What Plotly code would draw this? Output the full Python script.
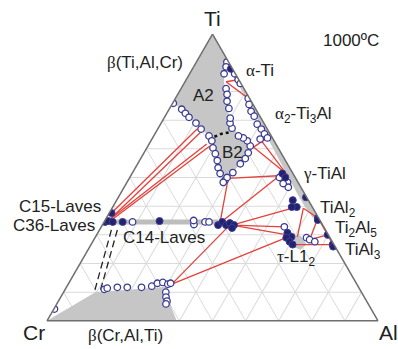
import plotly.graph_objects as go

# ---------------- data (at.% Ti, at.% Al; Cr = balance) ----------------
# single-phase field outlines (grey)
a2b2_ti = [100, 75.9, 73.8, 71.0, 69.0, 66.9, 64.5, 61.0, 56.9, 54.1, 51.4, 49.0, 51.7, 54.8,
           56.6, 58.6, 61.0, 62.8, 63.8, 64.5, 69.7, 73.1, 78.3, 83.4, 86.9, 90.0, 100]
a2b2_al = [0, 0.2, 3.8, 7.4, 10.5, 13.1, 16.7, 19.3, 21.8, 23.8, 26.0, 29.3, 30.3, 31.0,
           31.6, 31.5, 30.9, 29.1, 27.4, 25.6, 20.5, 18.1, 15.0, 11.8, 10.1, 10.0, 0]

edge_ti = [90, 88, 78, 64, 55, 50, 45, 40, 36, 36, 90]
edge_al = [10, 11.0, 21.0, 34.5, 43.2, 48.0, 52.8, 57.8, 62.3, 64, 10]

tau_ti = [30.0, 29.7, 26.6, 24.8, 26.2, 30.0]
tau_al = [58.6, 61.8, 65.1, 64.2, 60.5, 58.6]

bcr_ti = [0, 10.0, 11.9, 7.7, 4.2, 0, 0]
bcr_al = [0, 9.6, 30.5, 33.2, 35.6, 39.2, 0]

c14_ti = [34.5, 34.5]
c14_al = [1.0, 34.5]

# A2 / B2 ordering boundary (dotted)
dot_ti = [63.4, 65.2, 65.9, 68.6]
dot_al = [17.2, 20.0, 22.7, 21.3]

# dashed lines (Laves -> beta(Cr))
dash1_ti = [31.7, 10.0]
dash1_al = [3.6, 9.3]
dash2_ti = [31.7, 10.3]
dash2_al = [5.4, 10.9]

# open symbols (analysed phase compositions)
open_ti = [75.9, 73.8, 72.4, 71.0, 69.0, 66.9, 64.5, 62.8, 60.3, 58.3, 55.9, 53.4, 51.4,
           49.0, 50.0, 51.7, 48.3, 54.8, 56.6, 58.6, 61.0, 62.8, 63.8, 64.5, 67.2, 69.0,
           90.3, 88.6, 86.2, 81.0, 79.0, 76.6, 74.1, 70.7,
           86.2, 84.1, 82.8, 77.6, 75.5, 73.1, 71.4, 68.6, 66.9, 65.2, 63.8, 63.4,
           50.0, 48.3, 46.6, 47.9,
           32.8, 29.0, 28.3, 27.6,
           34.5, 33.6, 35.0, 34.5, 34.5,
           4.1, 11.0, 11.4, 11.7, 11.7, 11.7, 12.1, 13.1, 13.4, 12.8, 13.1,
           10.0, 8.3, 6.9, 5.9]
open_al = [0.2, 3.8, 5.6, 7.4, 10.5, 13.1, 16.7, 18.4, 20.0, 21.7, 23.5, 25.0, 26.6,
           29.3, 29.4, 30.3, 29.1, 31.0, 31.6, 31.5, 30.9, 29.1, 27.4, 25.6, 22.3, 20.8,
           9.2, 9.8, 10.4, 13.6, 14.9, 16.1, 17.9, 20.0,
           13.6, 15.7, 17.0, 22.0, 23.3, 25.1, 26.9, 29.2, 31.3, 33.1, 34.7, 32.7,
           45.2, 48.5, 49.6, 47.4,
           55.3, 63.9, 65.2, 67.1,
           8.6, 27.6, 26.8, 30.5, 31.7,
           0.2, 11.8, 12.5, 15.4, 18.4, 22.7, 25.6, 26.8, 28.3, 30.1, 30.8,
           30.9, 31.8, 32.8, 33.0]

# filled symbols
fill_ti = [87.9, 37.6, 34.5, 34.8, 34.5, 34.5, 34.8,
           33.4, 34.5, 33.4, 34.1, 33.4, 32.4,
           51.4, 50.0, 42.1, 39.7, 39.7, 43.1,
           30.7, 29.3, 29.0, 27.6, 26.6,
           35.9, 35.2, 30.0, 26.6, 25.9]
fill_al = [11.6, 0.7, 0.3, 1.1, 2.6, 5.6, 16.6,
           35.0, 35.7, 37.4, 38.2, 39.8, 39.7,
           45.4, 47.0, 53.2, 55.6, 54.1, 56.7,
           57.3, 59.2, 57.8, 59.5, 60.9,
           63.9, 64.2, 69.8, 73.0, 73.5]

# tie lines: (Ti1, Al1) -> (Ti2, Al2)
tie_ti1 = [37.6, 35.2, 35.2, 35.2, 83.4, 83.4, 59.3, 61.0, 63.4, 49.7, 49.7, 34.1,
           33.4, 33.4, 33.4, 12.8, 12.8, 39.3, 39.3, 35.9, 35.9, 28.3, 30.0, 26.6]
tie_al1 = [0.7, 1.2, 1.2, 1.9, 12.4, 12.4, 31.1, 31.5, 32.7, 29.9, 29.9, 35.2,
           39.2, 39.2, 39.2, 31.3, 31.3, 57.8, 57.8, 63.9, 63.9, 65.2, 69.8, 60.9]
tie_ti2 = [66.9, 66.2, 61.7, 61.0, 77.6, 84.1, 63.4, 50.7, 51.4, 50.7, 34.1, 51.4,
           39.3, 32.8, 30.0, 33.4, 29.0, 35.9, 29.3, 28.3, 30.0, 30.0, 26.6, 26.6]
tie_al2 = [11.9, 13.7, 17.4, 18.7, 22.0, 15.7, 34.3, 47.6, 46.5, 45.8, 35.2, 45.4,
           54.5, 55.3, 57.6, 38.5, 57.8, 63.9, 61.0, 65.2, 69.8, 69.8, 73.0, 73.0]


def cr(ti, al):
    return [max(0.0, 100 - t - a) for t, a in zip(ti, al)]


GREY = "#c6c6c6"
RED = "#e5413a"
BLUE = "#3b3b95"
NAVY = "#22226e"

fig = go.Figure()


def poly(ti, al, width=0):
    fig.add_trace(go.Scatterternary(a=ti, b=cr(ti, al), c=al, mode="lines", fill="toself",
                                    fillcolor=GREY, line=dict(color=GREY, width=width),
                                    hoverinfo="skip", showlegend=False))


poly(a2b2_ti, a2b2_al)
poly(edge_ti, edge_al)
poly(tau_ti, tau_al)
poly(bcr_ti, bcr_al)
fig.add_trace(go.Scatterternary(a=c14_ti, b=cr(c14_ti, c14_al), c=c14_al, mode="lines",
                                line=dict(color="#bdbdbd", width=5), showlegend=False))

# tie lines
lt, lb, lc = [], [], []
for t1, a1, t2, a2 in zip(tie_ti1, tie_al1, tie_ti2, tie_al2):
    lt += [t1, t2, None]
    lc += [a1, a2, None]
    lb += [100 - t1 - a1, 100 - t2 - a2, None]
fig.add_trace(go.Scatterternary(a=lt, b=lb, c=lc, mode="lines",
                                line=dict(color=RED, width=1.3), showlegend=False))

for ti, al in [(dash1_ti, dash1_al), (dash2_ti, dash2_al)]:
    fig.add_trace(go.Scatterternary(a=ti, b=cr(ti, al), c=al, mode="lines",
                                    line=dict(color="#222", width=1.3, dash="7px,4px"),
                                    showlegend=False))
fig.add_trace(go.Scatterternary(a=dot_ti, b=cr(dot_ti, dot_al), c=dot_al, mode="lines",
                                line=dict(color="#111", width=2.5, dash="dot"),
                                showlegend=False))

fig.add_trace(go.Scatterternary(a=open_ti, b=cr(open_ti, open_al), c=open_al, mode="markers",
                                marker=dict(size=6.5, color="white",
                                            line=dict(color=BLUE, width=1.3)),
                                showlegend=False))
fig.add_trace(go.Scatterternary(a=fill_ti, b=cr(fill_ti, fill_al), c=fill_al, mode="markers",
                                marker=dict(size=7, color=NAVY,
                                            line=dict(color=BLUE, width=1)),
                                showlegend=False))

axis = dict(showticklabels=False, ticks="", showgrid=True, gridcolor="#dadada",
            gridwidth=1, dtick=10, linecolor="#6e6e6e", linewidth=1.5, title=dict(text=""),
            min=0)

W, H = 398, 349
fig.update_layout(
    width=W, height=H, margin=dict(l=0, r=0, t=0, b=0),
    paper_bgcolor="white", showlegend=False,
    ternary=dict(sum=100, bgcolor="white",
                 domain=dict(x=[47 / W, 378 / W], y=[(H - 322) / H, (H - 33) / H]),
                 aaxis=axis, baxis=axis, caxis=axis),
    font=dict(family="Liberation Sans, Arial, sans-serif", color="#222"),
)

G = "<span style='font-family:Liberation Serif'>%s</span>"
labels = [
    ("Ti", 212, 18, 21),
    ("1000ºC", 351, 41, 17),
    (G % "β" + "(Ti,Al,Cr)", 145, 63, 17),
    ("A2", 203, 95, 17),
    ("B2", 232, 152, 17),
    (G % "α" + "-Ti", 260, 70, 17),
    (G % "α" + "<sub>2</sub>-Ti<sub>3</sub>Al", 303, 115, 17),
    (G % "γ" + "-TiAl", 324, 173, 17),
    ("TiAl<sub>2</sub>", 338, 209, 17),
    ("Ti<sub>2</sub>Al<sub>5</sub>", 356, 229, 17),
    ("TiAl<sub>3</sub>", 363, 251, 17),
    (G % "τ" + "-L1<sub>2</sub>", 296, 258, 17),
    ("C15-Laves", 60, 206, 17),
    ("C36-Laves", 54, 225, 17),
    ("C14-Laves", 164, 237, 17),
    ("Cr", 34, 332, 21),
    ("Al", 388, 332, 21),
    (G % "β" + "(Cr,Al,Ti)", 125, 335, 17),
]
for txt, x, y, s in labels:
    fig.add_annotation(text=txt, x=x / W, y=1 - y / H, xref="paper", yref="paper",
                       showarrow=False, font=dict(size=s), xanchor="center", yanchor="middle")

fig.write_html("out.html", config={"displayModeBar": False},
               post_script="document.body.style.margin='0px';")
